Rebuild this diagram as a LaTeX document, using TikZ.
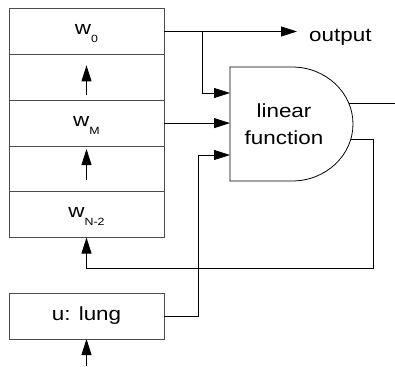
\documentclass[tikz,border=0pt]{standalone}
\usepackage{fontspec}
\setmainfont{Liberation Sans}[FakeStretch=1.18]
\usetikzlibrary{arrows.meta,positioning}

\newcommand{\wsub}[1]{w\raisebox{-8pt}{\fontsize{10.5}{12}\selectfont #1}}

\begin{document}
\begin{tikzpicture}[x=1pt, y=-1pt,
  cell/.style={draw=black!70, line width=0.8pt, rectangle, minimum width=155pt,
    minimum height=45.8pt, inner sep=0pt, outer sep=0pt, text height=10pt, text depth=4pt,
    font=\fontsize{19}{22}\selectfont},
  ubox/.style={draw=black!70, line width=0.8pt, rectangle, minimum width=155pt,
    minimum height=46pt, inner sep=0pt, outer sep=0pt, font=\fontsize{19}{22}\selectfont},
  gate/.style={rectangle, minimum width=108pt, minimum height=114pt, inner sep=0pt,
    outer sep=0pt, align=center, font=\fontsize{19}{27}\selectfont},
  lbl/.style={inner sep=0pt, anchor=west, font=\fontsize{19}{22}\selectfont},
  wire/.style={line width=0.8pt},
  ar/.style={-{Triangle[length=16pt, width=10pt]}, line width=0.8pt},
]
\useasboundingbox (0,0) rectangle (395,366);

%==== Register stack ====
\node[cell] (c0) at (86.5,31.5) {\wsub{0}};
\node[cell, below=0pt of c0] (c1) {};
\node[cell, below=0pt of c1] (c2) {\wsub{M}};
\node[cell, below=0pt of c2] (c3) {};
\node[cell, below=0pt of c3] (c4) {\wsub{N-2}};
\draw[ar] ([yshift=5pt]c1.south) -- ([yshift=-11pt]c1.north);
\draw[ar] ([yshift=12pt]c3.south) -- ([yshift=-3pt]c3.north);

%==== Input ====
\node[ubox] (u) at (86.5,316) {u: lung};
\coordinate (in) at (86.5,366);
\draw[ar] (in) -- (u.south);

%==== Linear function ====
\node[gate] (lf) at (284,124) {linear\\function};
\draw[wire] (lf.south west) -- (lf.north west) -- ++(62,0)
  arc[start angle=-90, end angle=90, x radius=61, y radius=57] -- cycle;
\coordinate (go) at (349,103);
\coordinate (rt) at (395,103);
\coordinate (gf) at (351,139.5);
\coordinate (fb) at (373,268);

%==== Connections ====
\node[lbl] (out) at (309,37) {output};
\coordinate (j0) at (202,31.5);
\draw[ar] (c0.east) -- ([xshift=-12pt]c0.east -| out.west);
\draw[ar] (j0) |- ([yshift=31pt]lf.west);
\draw[ar] (c2.east) -- (c2.east -| lf.west);
\draw[ar] (u.east) -- ++(34,0) |- ([yshift=-31pt]lf.west);
\draw[wire] (go) -- (rt);
\draw[ar] (gf) -| (fb) -| (c4.south);

\end{tikzpicture}
\end{document}
